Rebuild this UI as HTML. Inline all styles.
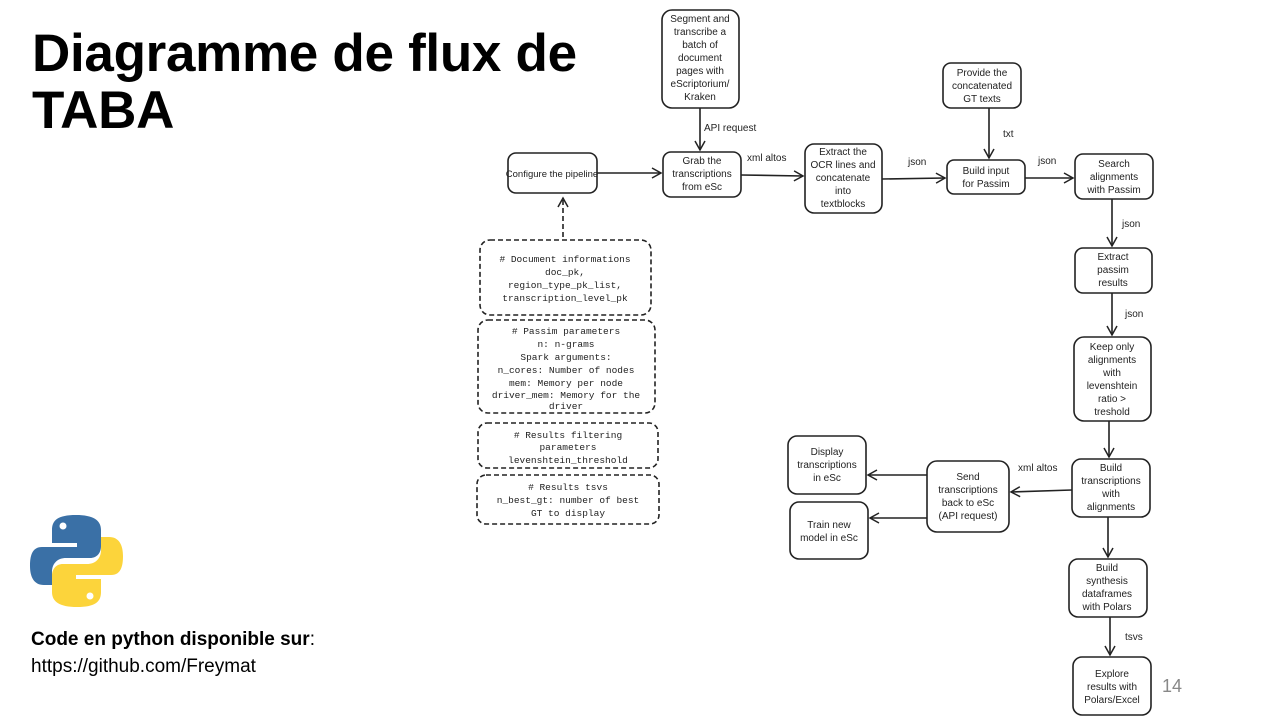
<!DOCTYPE html>
<html><head><meta charset="utf-8"><style>
body{margin:0;width:1280px;height:720px;background:#fff;overflow:hidden;position:relative;font-family:"Liberation Sans",sans-serif}
h1{position:absolute;left:32px;top:25px;margin:0;font-size:53px;line-height:57px;font-weight:bold;color:#000;letter-spacing:-0.3px}
.code{position:absolute;left:31px;top:626px;font-size:19px;line-height:27px;color:#000}
.pg{position:absolute;left:1162px;top:676px;font-size:18px;color:#888}
svg text{font-family:"Liberation Sans",sans-serif;font-size:10px;fill:#222}
svg .m{font-family:"Liberation Mono",monospace;font-size:9.5px}
</style></head><body>
<h1>Diagramme de flux de<br>TABA</h1>
<div class="code"><b>Code en python disponible sur</b>:<br>https://github.com/Freymat</div>
<div class="pg">14</div>
<svg width="1280" height="720" style="position:absolute;left:0;top:0">
<defs><marker id="a" markerWidth="12" markerHeight="12" refX="10" refY="6" orient="auto" markerUnits="userSpaceOnUse"><path d="M1,1 L10,6 L1,11" fill="none" stroke="#222" stroke-width="1.5"/></marker></defs>
<path d="M76,515 C58,515 52,520 52,530 L52,543 L77,543 L77,547 L42,547 C32,547 30,556 30,566 C30,577 34,585 44,585 L52,585 L52,572 C52,563 58,558 66,558 L90,558 C97,558 101,553 101,546 L101,530 C101,520 93,515 76,515Z" fill="#3a70a6"/>
<path d="M77,607 C95,607 101,602 101,592 L101,579 L76,579 L76,575 L111,575 C121,575 123,566 123,556 C123,545 119,537 109,537 L101,537 L101,550 C101,559 95,564 87,564 L63,564 C56,564 52,569 52,576 L52,592 C52,602 60,607 77,607Z" fill="#fcd43b"/>
<circle cx="63" cy="526" r="3.5" fill="#fff"/><circle cx="90" cy="596" r="3.5" fill="#fff"/>
<g fill="none" stroke="#222" stroke-width="1.6">
<rect x="662" y="10" width="77" height="98" rx="10"/>
<rect x="508" y="153" width="89" height="40" rx="8"/>
<rect x="663" y="152" width="78" height="45" rx="8"/>
<rect x="805" y="144" width="77" height="69" rx="9"/>
<rect x="943" y="63" width="78" height="45" rx="8"/>
<rect x="947" y="160" width="78" height="34" rx="7"/>
<rect x="1075" y="154" width="78" height="45" rx="8"/>
<rect x="1075" y="248" width="77" height="45" rx="8"/>
<rect x="1074" y="337" width="77" height="84" rx="10"/>
<rect x="1072" y="459" width="78" height="58" rx="9"/>
<rect x="1069" y="559" width="78" height="58" rx="9"/>
<rect x="1073" y="657" width="78" height="58" rx="9"/>
<rect x="927" y="461" width="82" height="71" rx="10"/>
<rect x="788" y="436" width="78" height="58" rx="9"/>
<rect x="790" y="502" width="78" height="57" rx="9"/>
<g stroke-dasharray="5,3"><rect x="480" y="240" width="171" height="75" rx="10"/>
<rect x="478" y="320" width="177" height="93" rx="10"/>
<rect x="478" y="423" width="180" height="45" rx="9"/>
<rect x="477" y="475" width="182" height="49" rx="9"/>
<line x1="563" y1="237" x2="563" y2="198" marker-end="url(#a)"/></g>
<line x1="700" y1="108" x2="700" y2="150" marker-end="url(#a)"/>
<line x1="597" y1="173" x2="661" y2="173" marker-end="url(#a)"/>
<line x1="741" y1="175" x2="803" y2="176" marker-end="url(#a)"/>
<line x1="882" y1="179" x2="945" y2="178" marker-end="url(#a)"/>
<line x1="989" y1="108" x2="989" y2="158" marker-end="url(#a)"/>
<line x1="1025" y1="178" x2="1073" y2="178" marker-end="url(#a)"/>
<line x1="1112" y1="199" x2="1112" y2="246" marker-end="url(#a)"/>
<line x1="1112" y1="293" x2="1112" y2="335" marker-end="url(#a)"/>
<line x1="1109" y1="421" x2="1109" y2="457" marker-end="url(#a)"/>
<line x1="1108" y1="517" x2="1108" y2="557" marker-end="url(#a)"/>
<line x1="1110" y1="617" x2="1110" y2="655" marker-end="url(#a)"/>
<line x1="1072" y1="490" x2="1011" y2="492" marker-end="url(#a)"/>
<line x1="927" y1="475" x2="868" y2="475" marker-end="url(#a)"/>
<line x1="927" y1="518" x2="870" y2="518" marker-end="url(#a)"/>
</g>
<g text-anchor="middle">
<text x="700" y="22">Segment and</text><text x="700" y="35">transcribe a</text><text x="700" y="48">batch of</text><text x="700" y="61">document</text><text x="700" y="74">pages with</text><text x="700" y="87">eScriptorium/</text><text x="700" y="100">Kraken</text>
<text x="552" y="177" style="font-size:9.5px">Configure the pipeline</text>
<text x="702" y="164">Grab the</text><text x="702" y="177">transcriptions</text><text x="702" y="190">from eSc</text>
<text x="843" y="155">Extract the</text><text x="843" y="168">OCR lines and</text><text x="843" y="181">concatenate</text><text x="843" y="194">into</text><text x="843" y="207">textblocks</text>
<text x="982" y="76">Provide the</text><text x="982" y="89">concatenated</text><text x="982" y="102">GT texts</text>
<text x="986" y="174">Build input</text><text x="986" y="187">for Passim</text>
<text x="1114" y="167">Search</text><text x="1114" y="180">alignments</text><text x="1114" y="193">with Passim</text>
<text x="1113" y="260">Extract</text><text x="1113" y="273">passim</text><text x="1113" y="286">results</text>
<text x="1112" y="350">Keep only</text><text x="1112" y="363">alignments</text><text x="1112" y="376">with</text><text x="1112" y="389">levenshtein</text><text x="1112" y="402">ratio &gt;</text><text x="1112" y="415">treshold</text>
<text x="1111" y="471">Build</text><text x="1111" y="484">transcriptions</text><text x="1111" y="497">with</text><text x="1111" y="510">alignments</text>
<text x="1107" y="571">Build</text><text x="1107" y="584">synthesis</text><text x="1107" y="597">dataframes</text><text x="1107" y="610">with Polars</text>
<text x="1112" y="677">Explore</text><text x="1112" y="690">results with</text><text x="1112" y="703">Polars/Excel</text>
<text x="968" y="480">Send</text><text x="968" y="493">transcriptions</text><text x="968" y="506">back to eSc</text><text x="968" y="519">(API request)</text>
<text x="827" y="455">Display</text><text x="827" y="468">transcriptions</text><text x="827" y="481">in eSc</text>
<text x="829" y="528">Train new</text><text x="829" y="541">model in eSc</text>
<text x="565" y="262" class="m"># Document informations</text><text x="565" y="275" class="m">doc_pk,</text><text x="565" y="288" class="m">region_type_pk_list,</text><text x="565" y="301" class="m">transcription_level_pk</text>
<text x="566" y="334" class="m"># Passim parameters</text><text x="566" y="347" class="m">n: n-grams</text><text x="566" y="360" class="m">Spark arguments:</text><text x="566" y="373" class="m">n_cores: Number of nodes</text><text x="566" y="386" class="m">mem:  Memory per node</text><text x="566" y="398" class="m">driver_mem: Memory for the</text><text x="566" y="409" class="m">driver</text>
<text x="568" y="438" class="m"># Results filtering</text><text x="568" y="450" class="m">parameters</text><text x="568" y="463" class="m">levenshtein_threshold</text>
<text x="568" y="490" class="m"># Results tsvs</text><text x="568" y="503" class="m">n_best_gt:  number of best</text><text x="568" y="516" class="m">GT to display</text>
</g>
<text x="704" y="131">API request</text>
<text x="747" y="161">xml altos</text>
<text x="908" y="165">json</text>
<text x="1003" y="137">txt</text>
<text x="1038" y="164">json</text>
<text x="1122" y="227">json</text>
<text x="1125" y="317">json</text>
<text x="1018" y="471">xml altos</text>
<text x="1125" y="640">tsvs</text>
</svg>
</body></html>
